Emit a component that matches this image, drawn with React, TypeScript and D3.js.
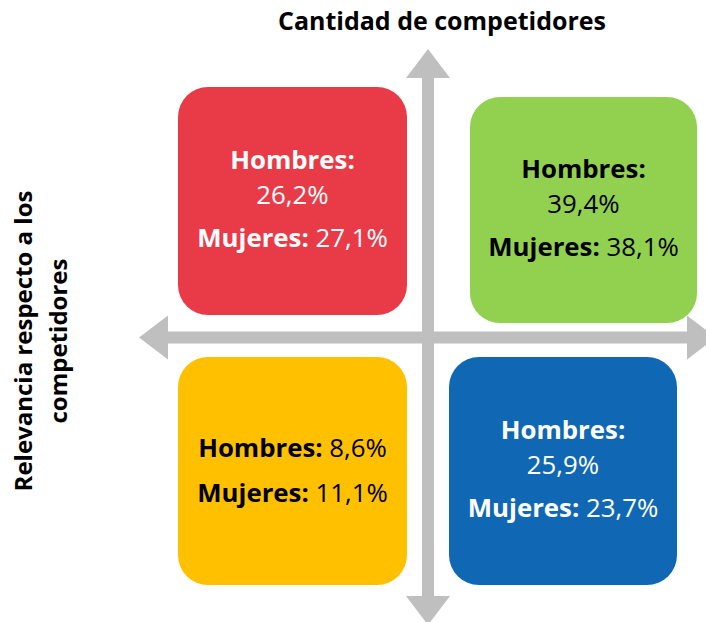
import React, { useEffect, useRef } from 'react';
import * as d3 from 'd3';

// quadrant order: top-left, top-right, bottom-left, bottom-right
const quadrants = ['alta-baja', 'alta-alta', 'baja-baja', 'baja-alta'];
const hombres = [26.2, 39.4, 8.6, 25.9];
const mujeres = [27.1, 38.1, 11.1, 23.7];
const fills = ['#E93B47', '#92D050', '#FFC000', '#1068B4'];
const textColors = ['#FFFFFF', '#000000', '#000000', '#FFFFFF'];
const xTitle = 'Cantidad de competidores';
const yTitle = ['Relevancia respecto a los', 'competidores'];

const fmt = (v: number) => v.toFixed(1).replace('.', ',') + '%';

const App = () => {
  const svgRef = useRef<SVGSVGElement>(null);

  useEffect(() => {
    if (!svgRef.current) return;
    document.body.style.margin = '0';

    const width = 706;
    const height = 622;
    const svg = d3.select(svgRef.current);
    svg.selectAll('*').remove();

    const font = "'Open Sans', sans-serif";
    const gray = '#BFBFBF';

    // axes span in diagram coordinates [-1, 1]
    const x = d3.scaleLinear().domain([-1, 1]).range([139, 716]);
    const y = d3.scaleLinear().domain([-1, 1]).range([625, 49]);
    const cx = 428;
    const cy = 337.5;
    const shaft = 12;
    const headW = 44;
    const headL = 29;

    const arrows = svg.append('g').attr('fill', gray);
    // vertical arrow
    arrows.append('rect')
      .attr('x', cx - shaft / 2).attr('y', y(1) + headL)
      .attr('width', shaft).attr('height', y(-1) - y(1) - 2 * headL);
    arrows.append('path')
      .attr('d', `M${cx},${y(1)} L${cx + headW / 2},${y(1) + headL} L${cx - headW / 2},${y(1) + headL} Z`);
    arrows.append('path')
      .attr('d', `M${cx},${y(-1)} L${cx + headW / 2},${y(-1) - headL} L${cx - headW / 2},${y(-1) - headL} Z`);
    // horizontal arrow
    arrows.append('rect')
      .attr('x', x(-1) + headL).attr('y', cy - shaft / 2)
      .attr('width', x(1) - x(-1) - 2 * headL).attr('height', shaft);
    arrows.append('path')
      .attr('d', `M${x(-1)},${cy} L${x(-1) + headL},${cy - headW / 2} L${x(-1) + headL},${cy + headW / 2} Z`);
    arrows.append('path')
      .attr('d', `M${x(1)},${cy} L${x(1) - headL},${cy - headW / 2} L${x(1) - headL},${cy + headW / 2} Z`);

    // box layout (not perfectly symmetric in the original)
    const boxes = [
      { x0: 178, y0: 87, x1: 407, y1: 315 },
      { x0: 470, y0: 97, x1: 697, y1: 323 },
      { x0: 178, y0: 357, x1: 407, y1: 585 },
      { x0: 449, y0: 357, x1: 677, y1: 585 },
    ];

    quadrants.forEach((q, i) => {
      const b = boxes[i];
      const g = svg.append('g').attr('class', `quad ${q}`);
      g.append('rect')
        .attr('x', b.x0).attr('y', b.y0)
        .attr('width', b.x1 - b.x0).attr('height', b.y1 - b.y0)
        .attr('rx', 30).attr('ry', 30)
        .attr('fill', fills[i]);

      const mx = (b.x0 + b.x1) / 2;
      const my = (b.y0 + b.y1) / 2;
      const t = g.append('g')
        .attr('fill', textColors[i])
        .attr('font-family', font)
        .attr('font-size', 25.8)
        .attr('text-anchor', 'middle');

      if (hombres[i] < 10) {
        const l1 = t.append('text').attr('x', mx).attr('y', my - 14);
        l1.append('tspan').attr('font-weight', 700).text('Hombres:');
        l1.append('tspan').text(' ' + fmt(hombres[i]));
        const l2 = t.append('text').attr('x', mx).attr('y', my + 31);
        l2.append('tspan').attr('font-weight', 700).text('Mujeres:');
        l2.append('tspan').text(' ' + fmt(mujeres[i]));
      } else {
        t.append('text').attr('x', mx).attr('y', my - 32)
          .attr('font-weight', 700).text('Hombres:');
        t.append('text').attr('x', mx).attr('y', my + 3).text(fmt(hombres[i]));
        const l3 = t.append('text').attr('x', mx).attr('y', my + 46);
        l3.append('tspan').attr('font-weight', 700).text('Mujeres:');
        l3.append('tspan').text(' ' + fmt(mujeres[i]));
      }
    });

    // titles
    svg.append('text')
      .attr('x', 442).attr('y', 30)
      .attr('text-anchor', 'middle')
      .attr('font-family', font).attr('font-weight', 700).attr('font-size', 25)
      .attr('fill', '#000')
      .text(xTitle);

    const yt = svg.append('g')
      .attr('transform', 'translate(0,341) rotate(-90)')
      .attr('font-family', font).attr('font-weight', 700).attr('font-size', 24)
      .attr('text-anchor', 'middle').attr('fill', '#000');
    yt.append('text').attr('x', 0).attr('y', 32).text(yTitle[0]);
    yt.append('text').attr('x', 0).attr('y', 67).text(yTitle[1]);

    svg.attr('width', width).attr('height', height);
  }, []);

  return (
    <svg
      ref={svgRef}
      width={706}
      height={622}
      style={{ display: 'block', position: 'absolute', left: 0, top: 0 }}
    />
  );
};

export default App;
